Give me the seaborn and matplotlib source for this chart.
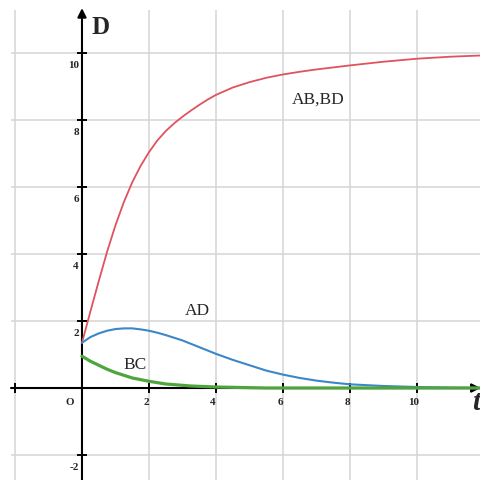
import numpy as np
import pandas as pd
import matplotlib
matplotlib.use("Agg")
import matplotlib.pyplot as plt
import seaborn as sns

# values
t = [0, 0.25, 0.5, 0.75, 1, 1.25, 1.5, 1.75, 2, 2.25, 2.5, 2.75, 3, 3.25, 3.5, 3.75,
     4, 4.5, 5, 5.5, 6, 6.5, 7, 7.5, 8, 9, 10, 11, 12]
ab_bd = [1.35, 2.28, 3.19, 4.07, 4.86, 5.55, 6.14, 6.63, 7.04, 7.39, 7.67, 7.9, 8.1,
         8.28, 8.45, 8.61, 8.75, 8.97, 9.13, 9.26, 9.36, 9.44, 9.51, 9.57, 9.63,
         9.74, 9.83, 9.89, 9.93]
ad = [1.35, 1.52, 1.63, 1.71, 1.76, 1.78, 1.78, 1.75, 1.71, 1.65, 1.58, 1.5, 1.42,
      1.32, 1.22, 1.12, 1.02, 0.84, 0.68, 0.52, 0.4, 0.3, 0.22, 0.16, 0.11,
      0.06, 0.03, 0.01, 0.0]
bc = [0.95, 0.8, 0.68, 0.56, 0.46, 0.38, 0.3, 0.25, 0.2, 0.16, 0.12, 0.1, 0.08,
      0.06, 0.05, 0.04, 0.03, 0.02, 0.01, 0.0, 0.0, 0.0, 0.0, 0.0, 0.0,
      0.0, 0.0, 0.0, 0.0]

x_ticks = [-2, 2, 4, 6, 8, 10]
x_labels = [2, 4, 6, 8, 10]
y_ticks = [-2, 2, 4, 6, 8, 10]
grid_x = [-2, 2, 4, 6, 8, 10]
grid_y = [-2, 2, 4, 6, 8, 10]

df = pd.DataFrame({"t": t, "AB,BD": ab_bd, "AD": ad, "BC": bc})

sns.set_style("white")
plt.rcParams["font.family"] = ["Liberation Serif", "DejaVu Serif"]

fig = plt.figure(figsize=(4.8, 4.81), dpi=100)
ax = fig.add_axes([11 / 480, 0, 469 / 480, 470 / 481])
ax.set_xlim(-2.119, 11.881)
ax.set_ylim(-2.746, 11.284)
for s in ax.spines.values():
    s.set_visible(False)
ax.set_xticks([])
ax.set_yticks([])

# grid
for gx in grid_x:
    ax.axvline(gx, color="#d4d4d4", lw=1.1, zorder=0)
for gy in grid_y:
    ax.axhline(gy, color="#d4d4d4", lw=1.1, zorder=0)

# axes with arrows
ax.annotate("", xy=(11.9, 0), xytext=(-2.119, 0), annotation_clip=False,
            arrowprops=dict(arrowstyle="-|>", color="black", lw=1.5,
                            mutation_scale=13, shrinkA=0, shrinkB=0), zorder=2)
ax.annotate("", xy=(0, 11.34), xytext=(0, -2.75), annotation_clip=False,
            arrowprops=dict(arrowstyle="-|>", color="black", lw=1.5,
                            mutation_scale=13, shrinkA=0, shrinkB=0), zorder=2)
ax.plot(x_ticks, [0] * len(x_ticks), ls="none", marker="|", ms=7, mew=1.4,
        color="black", zorder=2)
ax.plot([0] * len(y_ticks), y_ticks, ls="none", marker="_", ms=7, mew=1.4,
        color="black", zorder=2)

# curves
sns.lineplot(data=df, x="t", y="AB,BD", ax=ax, color="#e0525e", lw=1.3, zorder=3)
sns.lineplot(data=df, x="t", y="AD", ax=ax, color="#3b87c8", lw=1.5, zorder=3)
sns.lineplot(data=df, x="t", y="BC", ax=ax, color="#4fa53d", lw=2.3, zorder=3)
ax.set_xlabel("")
ax.set_ylabel("")

# tick labels
for v in x_labels:
    ax.text(v - 0.09, -0.39, str(v), ha="center", va="center",
            fontsize=8, fontweight="bold")
for v in y_ticks:
    ax.text(-0.09, v - 0.33, str(v), ha="right", va="center",
            fontsize=8, fontweight="bold")
ax.text(-0.36, -0.39, "O", ha="center", va="center", fontsize=8, fontweight="bold")

ax.text(0.54, 10.8, "D", ha="center", va="center", fontsize=18, fontweight="bold")
ax.text(11.76, -0.4, "t", ha="center", va="center", fontsize=21,
        fontweight="bold", fontstyle="italic")

ax.text(7.04, 8.63, "AB,BD", ha="center", va="center", fontsize=12.5)
ax.text(3.43, 2.33, "AD", ha="center", va="center", fontsize=12.5)
ax.text(1.57, 0.72, "BC", ha="center", va="center", fontsize=12.5)

fig.savefig("out.png", dpi=100)
